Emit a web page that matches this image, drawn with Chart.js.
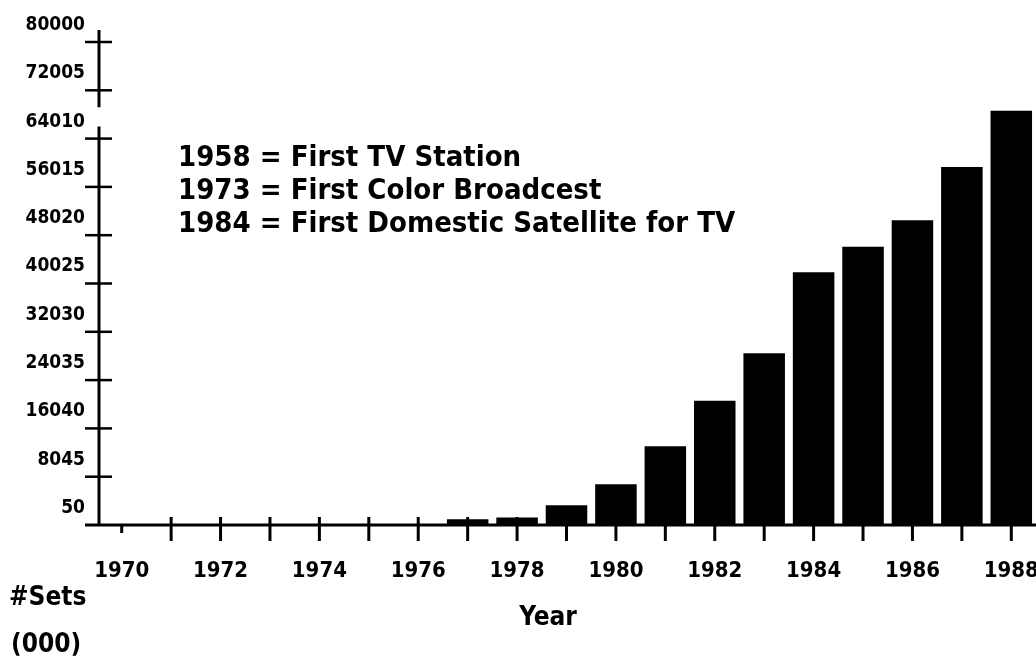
<!DOCTYPE html>
<html>
<head>
<meta charset="utf-8">
<script src="https://cdn.jsdelivr.net/npm/chart.js@4"></script>
<style>
  body { margin: 0; background: #fff; }
  canvas { display: block; }
</style>
</head>
<body>
<canvas id="myChart" width="1036" height="660"></canvas>
<script>
// TV sets in use, thousands
const years = ['1970', '1971', '1972', '1973', '1974', '1975', '1976', '1977', '1978', '1979',
               '1980', '1981', '1982', '1983', '1984', '1985', '1986', '1987', '1988'];

const sets = [0, 0, 0, 0, 0, 0, 0, 1000, 1300, 3300,
              6800, 13100, 20600, 28500, 41900, 46100, 50500, 59300, 68600];

const yTicks = [50, 8045, 16040, 24035, 32030, 40025, 48020, 56015, 64010, 72005, 80000];

const notes = [
    '1958 = First TV Station',
    '1973 = First Color Broadcest',
    '1984 = First Domestic Satellite for TV'
];

const FONT = '"DejaVu Sans Condensed", "DejaVu Sans", sans-serif';

// axis lines + the cross shaped tick marks of the original
const axesPlugin = {
    id: 'axes',
    afterDatasetsDraw: (chart) => {
        const {ctx, chartArea} = chart;
        const x = chart.scales.x, y = chart.scales.y;
        const ax = chartArea.left + 2;
        const base = chartArea.bottom;
        ctx.save();
        ctx.strokeStyle = '#000';
        ctx.lineWidth = 3;
        // y axis, with the little break between the top ticks
        const gapTop = y.getPixelForValue(72005) + 17;
        const gapBot = y.getPixelForValue(64010) - 12;
        ctx.beginPath();
        ctx.moveTo(ax, chartArea.top - 12);
        ctx.lineTo(ax, gapTop);
        ctx.moveTo(ax, gapBot);
        ctx.lineTo(ax, base);
        ctx.stroke();
        // baseline
        ctx.beginPath();
        ctx.moveTo(ax - 14, base);
        ctx.lineTo(chartArea.right, base);
        ctx.stroke();
        ctx.lineWidth = 2.5;
        y.ticks.forEach((t, i) => {
            if (i === 0) return;
            const py = y.getPixelForTick(i);
            ctx.beginPath();
            ctx.moveTo(ax - 14, py);
            ctx.lineTo(ax + 13, py);
            ctx.stroke();
        });
        ctx.lineWidth = 3;
        x.ticks.forEach((t, i) => {
            const px = x.getPixelForTick(i);
            ctx.beginPath();
            ctx.moveTo(px, base - (i === 0 ? 0 : 8));
            ctx.lineTo(px, base + (i === 0 ? 8 : 16));
            ctx.stroke();
        });
        ctx.restore();
    }
};

const textPlugin = {
    id: 'texts',
    afterDraw: (chart) => {
        const {ctx} = chart;
        ctx.save();
        ctx.fillStyle = '#000';
        ctx.textBaseline = 'middle';
        ctx.font = 'bold 29px ' + FONT;
        notes.forEach((s, i) => ctx.fillText(s, 178, 158 + i * 33));
        ctx.font = 'bold 26px ' + FONT;
        ctx.fillText('#Sets', 9, 598);
        ctx.fillText('(000)', 11, 645);
        ctx.textAlign = 'center';
        ctx.fillText('Year', 548, 618);
        ctx.restore();
    }
};

const data = {
    labels: years,
    datasets: [{
        label: '#Sets (000)',
        data: sets,
        backgroundColor: '#000',
        borderWidth: 0,
        barPercentage: 0.84,
        categoryPercentage: 1.0
    }]
};

const config = {
    type: 'bar',
    data: data,
    options: {
        responsive: false,
        animation: false,
        layout: { padding: { top: 42, left: 0, right: 0, bottom: 0 } },
        plugins: {
            legend: { display: false },
            tooltip: { enabled: false }
        },
        scales: {
            x: {
                grid: { display: false },
                border: { display: false },
                ticks: {
                    autoSkip: false,
                    maxRotation: 0,
                    padding: 25,
                    color: '#000',
                    font: { family: FONT, size: 22, weight: 'bold' },
                    callback: (v, i) => (i % 2 === 0 ? years[i] : '')
                },
                afterFit: (s) => {
                    s.height = 135;
                    s.paddingLeft = 0;
                    s.paddingRight = 0;
                }
            },
            y: {
                min: 50,
                max: 80000,
                grid: { display: false },
                border: { display: false },
                afterBuildTicks: (s) => { s.ticks = yTicks.map(v => ({ value: v })); },
                ticks: {
                    padding: 4,
                    labelOffset: -17,
                    color: '#000',
                    font: { family: FONT, size: 19, weight: 'bold' },
                    callback: (v) => String(v)
                },
                afterFit: (s) => { s.width = 97; }
            }
        }
    },
    plugins: [axesPlugin, textPlugin]
};

const myChart = new Chart(document.getElementById('myChart'), config);
</script>
</body>
</html>
